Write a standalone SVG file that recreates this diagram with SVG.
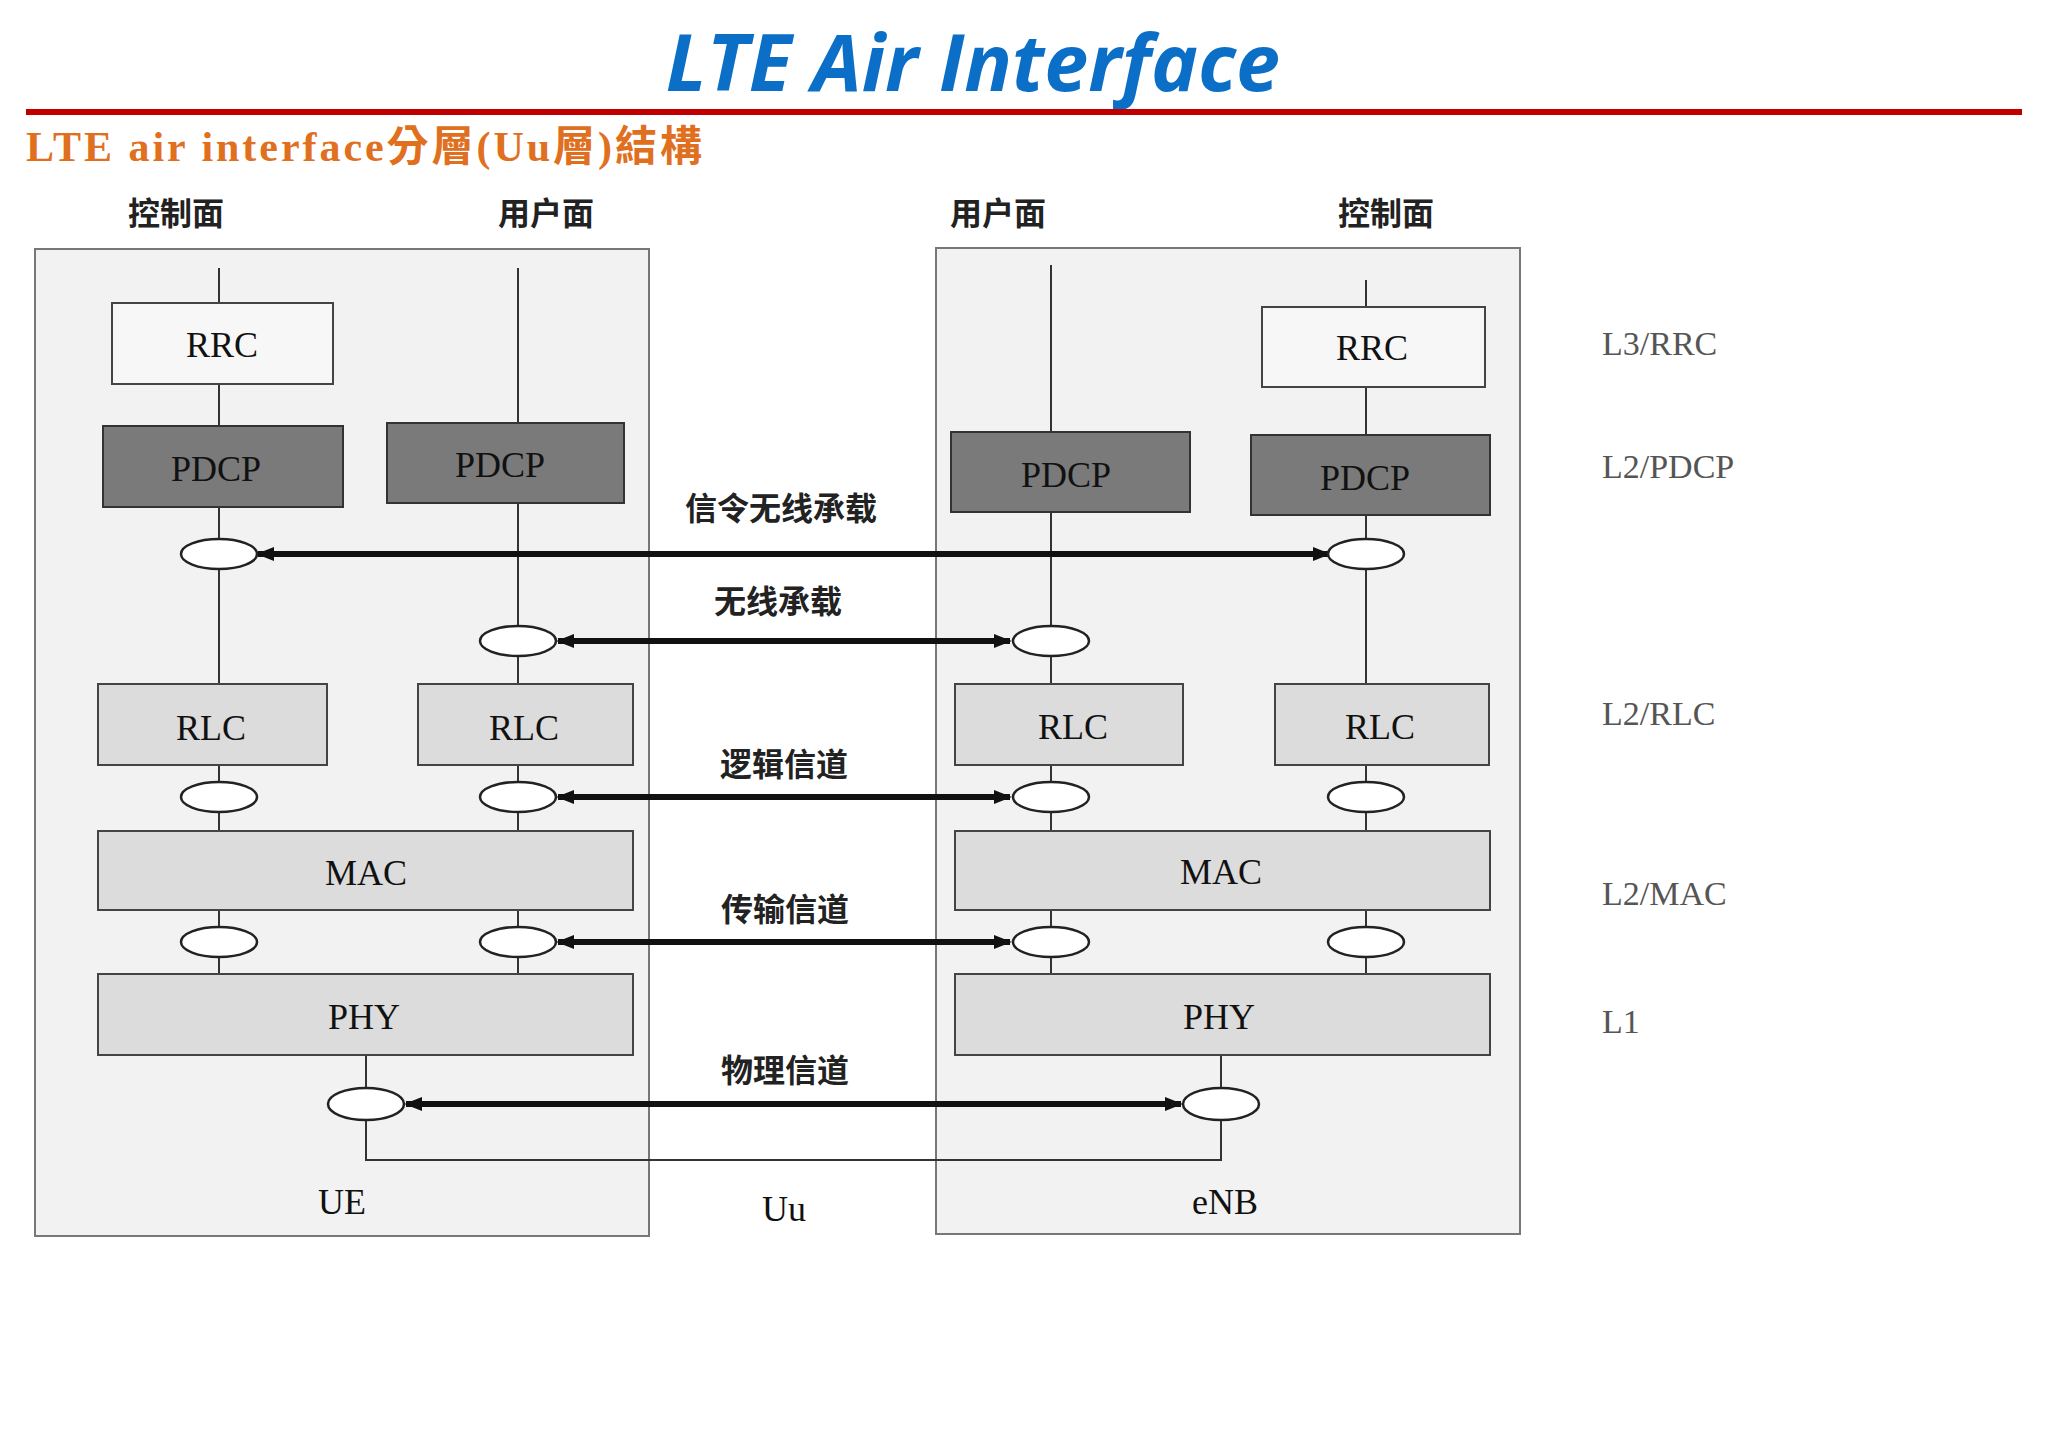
<svg xmlns="http://www.w3.org/2000/svg" width="2048" height="1447" viewBox="0 0 2048 1447">
<style>
.frame{fill:#f2f2f2;stroke:#777;stroke-width:2}
.dark{fill:#7a7a7a;stroke:#333;stroke-width:2}
.light{fill:#dcdcdc;stroke:#444;stroke-width:2}
.white{fill:#f7f7f7;stroke:#444;stroke-width:2}
.ell{fill:#fff;stroke:#222;stroke-width:2.5}
.vl{stroke:#333;stroke-width:2;fill:none}
.arr{stroke:#111;stroke-width:6;fill:none}
.bl{font-family:"Liberation Serif",serif;font-size:36px;fill:#111;text-anchor:middle}
.cn{font-family:"Noto Sans CJK SC",sans-serif;font-size:32px;font-weight:bold;fill:#222;text-anchor:middle}
.rl{font-family:"Liberation Serif",serif;font-size:34px;fill:#555}
</style>
<defs>
<marker id="ah" viewBox="0 0 10 10" refX="9" refY="5" markerWidth="3" markerHeight="3" orient="auto-start-reverse"><path d="M0,1 L10,5 L0,9 z" fill="#111"/></marker>
</defs>
<rect width="2048" height="1447" fill="#fff"/>
<text x="973" y="91" font-family="Open Sans,sans-serif" font-style="italic" font-weight="bold" font-size="79" fill="#0b6fc7" text-anchor="middle">LTE Air Interface</text>
<rect x="26" y="109" width="1996" height="6" fill="#c00000"/>
<text x="26" y="161" font-family="Liberation Serif,Noto Sans CJK TC,serif" font-weight="bold" font-size="42" fill="#e07020" textLength="676" lengthAdjust="spacing">LTE air interface分層(Uu層)結構</text>
<g id="headers">
<text class="cn" x="176" y="225">控制面</text>
<text class="cn" x="546" y="225">用户面</text>
<text class="cn" x="998" y="225">用户面</text>
<text class="cn" x="1386" y="225">控制面</text>
</g>
<g id="ue-frame"><rect class="frame" x="35" y="249" width="614" height="987"/></g>
<g id="enb-frame"><rect class="frame" x="936" y="248" width="584" height="986"/></g>
<g id="connectors">
<path class="vl" d="M219 268V974M518 268V974M1051 265V974M1366 280V974"/>
<path class="vl" d="M366 1055V1160H1221V1055"/>
<path class="arr" d="M258 554H1329" marker-start="url(#ah)" marker-end="url(#ah)"/>
<path class="arr" d="M558 641H1010" marker-start="url(#ah)" marker-end="url(#ah)"/>
<path class="arr" d="M558 797H1010" marker-start="url(#ah)" marker-end="url(#ah)"/>
<path class="arr" d="M558 942H1010" marker-start="url(#ah)" marker-end="url(#ah)"/>
<path class="arr" d="M406 1104H1181" marker-start="url(#ah)" marker-end="url(#ah)"/>
</g>
<g id="ue-rrc"><rect class="white" x="112" y="303" width="221" height="81"/><text class="bl" x="222" y="357">RRC</text></g>
<g id="enb-rrc"><rect class="white" x="1262" y="307" width="223" height="80"/><text class="bl" x="1372" y="360">RRC</text></g>
<g id="ue-pdcp-c"><rect class="dark" x="103" y="426" width="240" height="81"/><text class="bl" x="216" y="481">PDCP</text></g>
<g id="ue-pdcp-u"><rect class="dark" x="387" y="423" width="237" height="80"/><text class="bl" x="500" y="477">PDCP</text></g>
<g id="enb-pdcp-u"><rect class="dark" x="951" y="432" width="239" height="80"/><text class="bl" x="1066" y="487">PDCP</text></g>
<g id="enb-pdcp-c"><rect class="dark" x="1251" y="435" width="239" height="80"/><text class="bl" x="1365" y="490">PDCP</text></g>
<g id="ue-rlc-c"><rect class="light" x="98" y="684" width="229" height="81"/><text class="bl" x="211" y="740">RLC</text></g>
<g id="ue-rlc-u"><rect class="light" x="418" y="684" width="215" height="81"/><text class="bl" x="524" y="740">RLC</text></g>
<g id="enb-rlc-u"><rect class="light" x="955" y="684" width="228" height="81"/><text class="bl" x="1073" y="739">RLC</text></g>
<g id="enb-rlc-c"><rect class="light" x="1275" y="684" width="214" height="81"/><text class="bl" x="1380" y="739">RLC</text></g>
<g id="ue-mac"><rect class="light" x="98" y="831" width="535" height="79"/><text class="bl" x="366" y="885">MAC</text></g>
<g id="enb-mac"><rect class="light" x="955" y="831" width="535" height="79"/><text class="bl" x="1221" y="884">MAC</text></g>
<g id="ue-phy"><rect class="light" x="98" y="974" width="535" height="81"/><text class="bl" x="364" y="1029">PHY</text></g>
<g id="enb-phy"><rect class="light" x="955" y="974" width="535" height="81"/><text class="bl" x="1219" y="1029">PHY</text></g>
<g id="ellipses">
<ellipse class="ell" cx="219" cy="554" rx="38" ry="15"/>
<ellipse class="ell" cx="1366" cy="554" rx="38" ry="15"/>
<ellipse class="ell" cx="518" cy="641" rx="38" ry="15"/>
<ellipse class="ell" cx="1051" cy="641" rx="38" ry="15"/>
<ellipse class="ell" cx="219" cy="797" rx="38" ry="15"/>
<ellipse class="ell" cx="518" cy="797" rx="38" ry="15"/>
<ellipse class="ell" cx="1051" cy="797" rx="38" ry="15"/>
<ellipse class="ell" cx="1366" cy="797" rx="38" ry="15"/>
<ellipse class="ell" cx="219" cy="942" rx="38" ry="15"/>
<ellipse class="ell" cx="518" cy="942" rx="38" ry="15"/>
<ellipse class="ell" cx="1051" cy="942" rx="38" ry="15"/>
<ellipse class="ell" cx="1366" cy="942" rx="38" ry="15"/>
<ellipse class="ell" cx="366" cy="1104" rx="38" ry="16"/>
<ellipse class="ell" cx="1221" cy="1104" rx="38" ry="16"/>
</g>
<g id="channel-labels">
<text class="cn" x="781" y="520">信令无线承载</text>
<text class="cn" x="778" y="613">无线承载</text>
<text class="cn" x="784" y="776">逻辑信道</text>
<text class="cn" x="785" y="921">传输信道</text>
<text class="cn" x="785" y="1082">物理信道</text>
</g>
<g id="bottom-labels">
<text class="bl" x="342" y="1214">UE</text>
<text class="bl" x="784" y="1221">Uu</text>
<text class="bl" x="1225" y="1214">eNB</text>
</g>
<g id="layer-labels">
<text class="rl" x="1602" y="355">L3/RRC</text>
<text class="rl" x="1602" y="478">L2/PDCP</text>
<text class="rl" x="1602" y="725">L2/RLC</text>
<text class="rl" x="1602" y="905">L2/MAC</text>
<text class="rl" x="1602" y="1033">L1</text>
</g>
</svg>
